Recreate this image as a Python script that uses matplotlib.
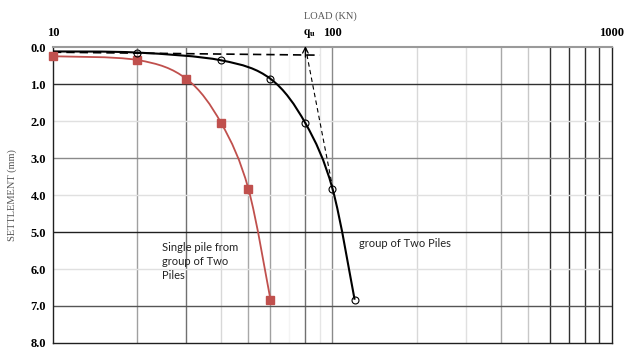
import numpy as np
import matplotlib
matplotlib.use("Agg")
import matplotlib.pyplot as plt
from matplotlib.path import Path
from matplotlib.patches import PathPatch

# load (kN) and settlement (mm)
single_load = [10, 20, 30, 40, 50, 60]
single_settle = [0.25, 0.35, 0.86, 2.06, 3.83, 6.83]

group_load = [10, 20, 40, 60, 80, 100, 120]
group_settle = [0.12, 0.15, 0.36, 0.86, 2.06, 3.83, 6.83]

# tangent construction for q_u
tan1_load = [10, 90]
tan1_settle = [0.14, 0.22]
tan2_load = [80, 100]
tan2_settle = [0.0, 3.78]
qu_load = 80

x_ticks = [10, 100, 1000]
y_ticks = [0, 1, 2, 3, 4, 5, 6, 7, 8]

# grid line shades (Excel-ish rendering)
vgrid = {20: '#a0a0a0', 30: '#707070', 40: '#d8d8d8', 50: '#a8a8a8',
         60: '#a0a0a0', 70: '#f4f4f4', 80: '#707070', 90: '#e6e6e6',
         100: '#8a8a8a', 200: '#d8d8d8', 300: '#e0e0e0', 400: '#a8a8a8',
         500: '#c8c8c8', 600: '#303030', 700: '#303030', 800: '#303030',
         900: '#303030'}
hgrid = {1: '#303030', 2: '#e0e0e0', 3: '#8a8a8a', 4: '#e0e0e0',
         5: '#202020', 6: '#e0e0e0', 7: '#555555'}


def smooth_path(xs, ys):
    # Catmull-Rom -> cubic Bezier in log-x space (Excel "smoothed line")
    lx = np.log10(xs)
    ys = np.asarray(ys, float)
    n = len(lx)
    verts = [(xs[0], ys[0])]
    codes = [Path.MOVETO]
    for i in range(n - 1):
        i0 = max(i - 1, 0)
        i3 = min(i + 2, n - 1)
        c1x = lx[i] + (lx[i + 1] - lx[i0]) / 6
        c1y = ys[i] + (ys[i + 1] - ys[i0]) / 6
        c2x = lx[i + 1] - (lx[i3] - lx[i]) / 6
        c2y = ys[i + 1] - (ys[i3] - ys[i]) / 6
        verts += [(10 ** c1x, c1y), (10 ** c2x, c2y), (xs[i + 1], ys[i + 1])]
        codes += [Path.CURVE4] * 3
    return Path(verts, codes)


fig = plt.figure(figsize=(6.24, 3.49), dpi=100)
ax = fig.add_axes([0.0849, 0.0172, 0.8959, 0.8481])
ax.set_xscale('log')
ax.set_xlim(10, 1000)
ax.set_ylim(8, 0)

for v, c in vgrid.items():
    ax.axvline(v, color=c, lw=1, zorder=0)
for v, c in hgrid.items():
    ax.axhline(v, color=c, lw=1, zorder=0)

for s in ['left', 'bottom', 'right']:
    ax.spines[s].set_color('#202020')
    ax.spines[s].set_linewidth(1)
ax.spines['top'].set_color('#9a9a9a')
ax.spines['top'].set_linewidth(1.5)

red = '#c0504d'
ax.add_patch(PathPatch(smooth_path(single_load, single_settle), fc='none',
                       ec=red, lw=1.3, zorder=3))
ax.plot(single_load, single_settle, ls='none', marker='s', ms=5.5,
        color=red, zorder=4, clip_on=False)

ax.add_patch(PathPatch(smooth_path(group_load, group_settle), fc='none',
                       ec='black', lw=1.5, zorder=3))
ax.plot(group_load[1:], group_settle[1:], ls='none', marker='o', ms=5,
        mfc='none', mec='black', mew=0.8, zorder=4, clip_on=False)

ax.plot(tan1_load, tan1_settle, ls=(0, (5, 3)), color='black', lw=1.2, zorder=2)
ax.plot(tan2_load, tan2_settle, ls=(0, (4, 3)), color='black', lw=0.8, zorder=2)
ax.annotate('', xy=(qu_load, -0.1), xytext=(qu_load, 0.35),
            arrowprops=dict(arrowstyle='->', lw=0.9, color='black'),
            annotation_clip=False, zorder=5)
ax.text(qu_load * 1.035, -0.2, r'$\mathbf{q}_{\mathbf{u}}$', ha='center',
        va='bottom', fontsize=8.5, math_fontfamily='stix')

ax.xaxis.tick_top()
ax.set_xticks(x_ticks)
ax.set_xticklabels([str(t) for t in x_ticks])
ax.xaxis.set_minor_locator(matplotlib.ticker.NullLocator())
ax.set_yticks(y_ticks)
ax.set_yticklabels(['%.1f' % t for t in y_ticks])
ax.tick_params(length=0, pad=5)
for lab in ax.get_xticklabels() + ax.get_yticklabels():
    lab.set_fontfamily('Liberation Serif')
    lab.set_fontweight('bold')
    lab.set_fontsize(9)
ax.tick_params(axis='x', pad=6)

fig.text(0.53, 0.955, 'LOAD (KN)', ha='center', va='center',
         family='Liberation Serif', fontsize=7.5, color='#555555')
fig.text(0.02, 0.44, 'SETTLEMENT (mm)', ha='center', va='center', rotation=90,
         family='Liberation Serif', fontsize=7.5, color='#555555')

ax.text(24.5, 5.28, 'Single pile from\ngroup of Two\nPiles', ha='left', va='top',
        family='Lato', fontsize=8, linespacing=1.3, color='#222222')
ax.text(124, 5.15, 'group of Two Piles', ha='left', va='top',
        family='Lato', fontsize=8, color='#222222')

fig.savefig('out.png', dpi=100)
